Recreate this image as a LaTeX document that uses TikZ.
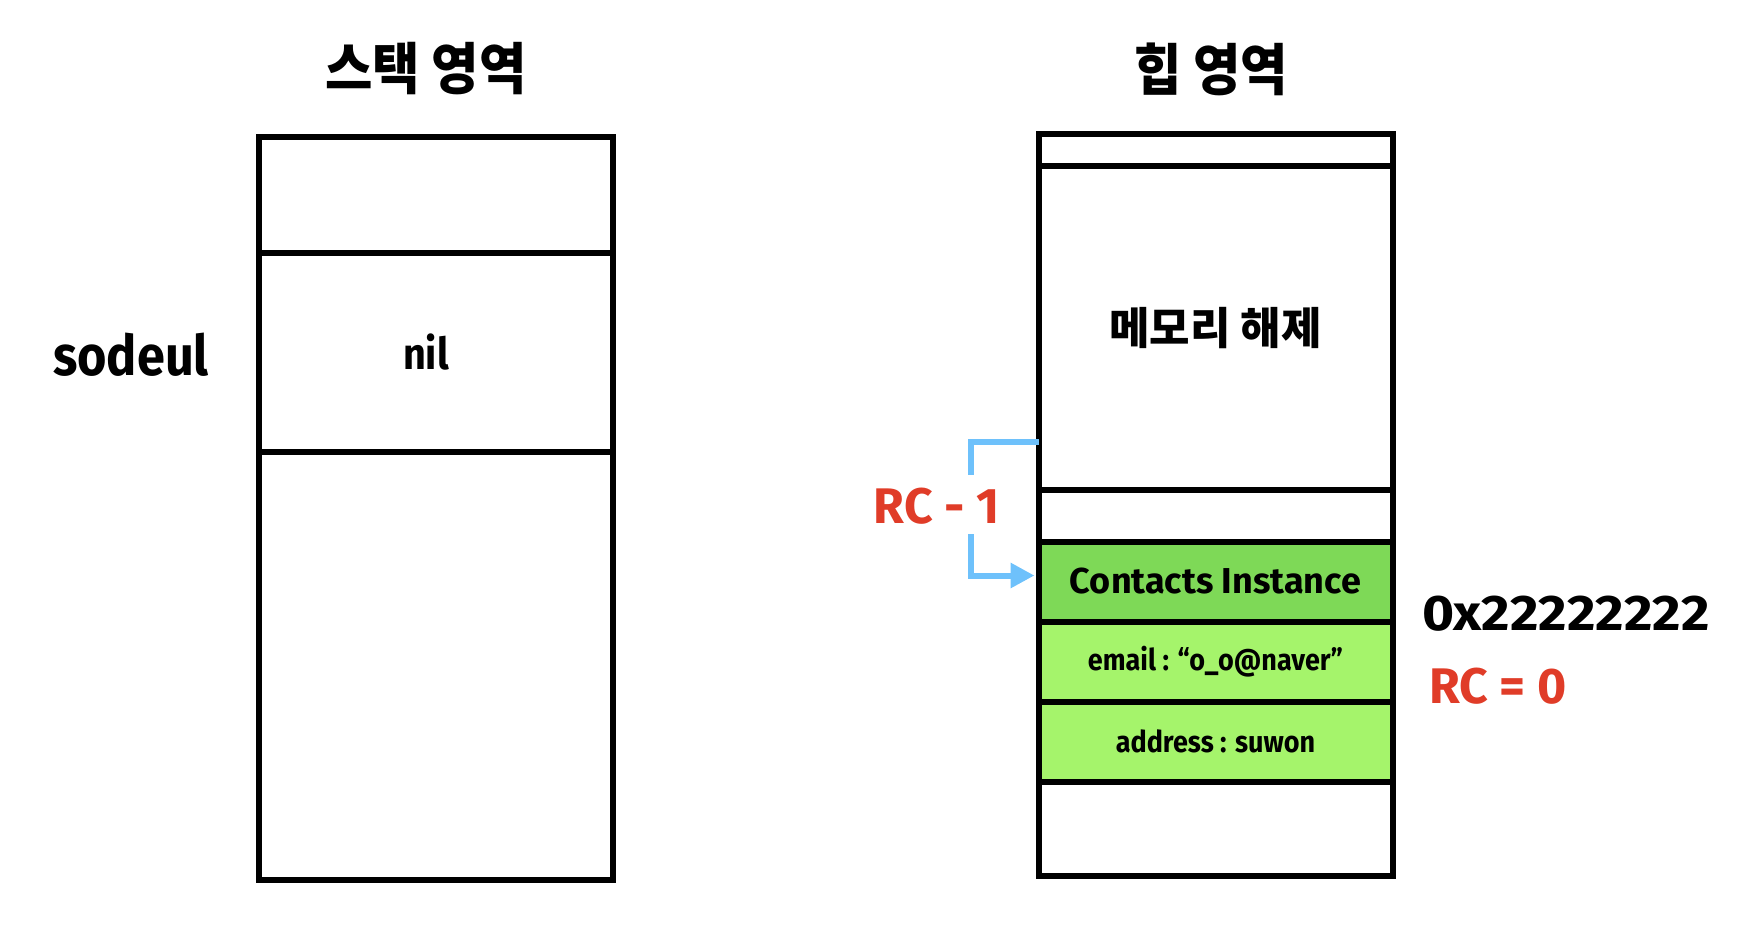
\documentclass[tikz,border=0pt]{standalone}
\usepackage{fontspec}
\setmainfont{Fira Sans}
\newfontfamily\narrowfont{Fira Sans}[FakeStretch=0.9]
\newfontfamily\widefont{Fira Sans}[FakeStretch=1.1]
\newfontfamily\kofont{Noto Sans CJK KR}[FakeStretch=0.92]
\newfontfamily\kobodyfont{Noto Sans CJK KR}
\usetikzlibrary{arrows.meta, positioning}
\definecolor{rcred}{HTML}{E03C28}
\definecolor{rcblue}{HTML}{6EC1FB}
\definecolor{objfill}{HTML}{7ED957}
\definecolor{fieldfill}{HTML}{A5F46B}
\tikzset{
  cell/.style      = {rectangle, draw=black, line width=3pt, minimum width=177pt,
                      inner sep=0pt, outer sep=0pt, align=center},
  objcell/.style   = {cell, fill=objfill, font=\bfseries\fontsize{18}{20}\selectfont},
  fieldcell/.style = {cell, fill=fieldfill, font=\narrowfont\bfseries\fontsize{15}{18}\selectfont},
  areatitle/.style = {font=\kofont\bfseries\fontsize{28}{30}\selectfont},
  rclbl/.style     = {text=rcred, font=\bfseries\fontsize{25}{28}\selectfont},
  rcline/.style    = {draw=rcblue, line width=3pt},
}
\begin{document}
\begin{tikzpicture}[x=0.5pt, y=-0.5pt]
    \useasboundingbox (0,0) rectangle (1740,926);
    % stack area
    \node[areatitle] (stacktitle) at (426,69) {스택 영역};
    \node[cell, minimum height=57.75pt, anchor=north] (s1) at (436,137) {};
    \node[cell, minimum height=99.75pt, below=0pt of s1] (s2) {};
    \node[cell, minimum height=213.75pt, below=0pt of s2] (s3) {};
    \node[font=\narrowfont\bfseries\fontsize{22}{24}\selectfont, xshift=-5pt] (nilval) at (s2) {nil};
    \node[font=\narrowfont\bfseries\fontsize{28}{30}\selectfont] (var) at (131,355) {sodeul};
    % heap area
    \node[areatitle] (heaptitle) at (1211,69) {힙 영역};
    \node[cell, minimum height=16.25pt, anchor=north] (h1) at (1215.5,133.5) {};
    \node[cell, minimum height=161.75pt, below=0pt of h1, font=\kobodyfont\bfseries\fontsize{22}{24}\selectfont] (mem) {메모리 해제};
    \node[cell, minimum height=26pt, below=0pt of mem] (h3) {};
    \node[objcell, minimum height=40pt, below=0pt of h3] (inst) {Contacts Instance};
    \node[fieldcell, minimum height=40pt, below=0pt of inst] (email) {email : “o\_o@naver”};
    \node[fieldcell, minimum height=40pt, below=0pt of email] (addr) {address : suwon};
    \node[cell, minimum height=47pt, below=0pt of addr] (h7) {};
    % labels
    \node[anchor=west, font=\widefont\bfseries\fontsize{25}{28}\selectfont] (addrlbl) at (1415,614) {0x22222222};
    \node[rclbl, anchor=west] (rczero) at (1422,686) {RC = 0};
    \node[rclbl] (rcminus) at (937,506) {RC - 1};
    % release arrow
    \coordinate (upend) at (971,475);
    \coordinate (lowstart) at (971,534);
    \draw[rcline] ([yshift=-57pt]mem.west) -| (upend);
    \draw[rcline, -{Triangle[length=12pt, width=12pt]}] (lowstart) |- ([xshift=-2pt, yshift=3pt]inst.west);
\end{tikzpicture}
\end{document}
